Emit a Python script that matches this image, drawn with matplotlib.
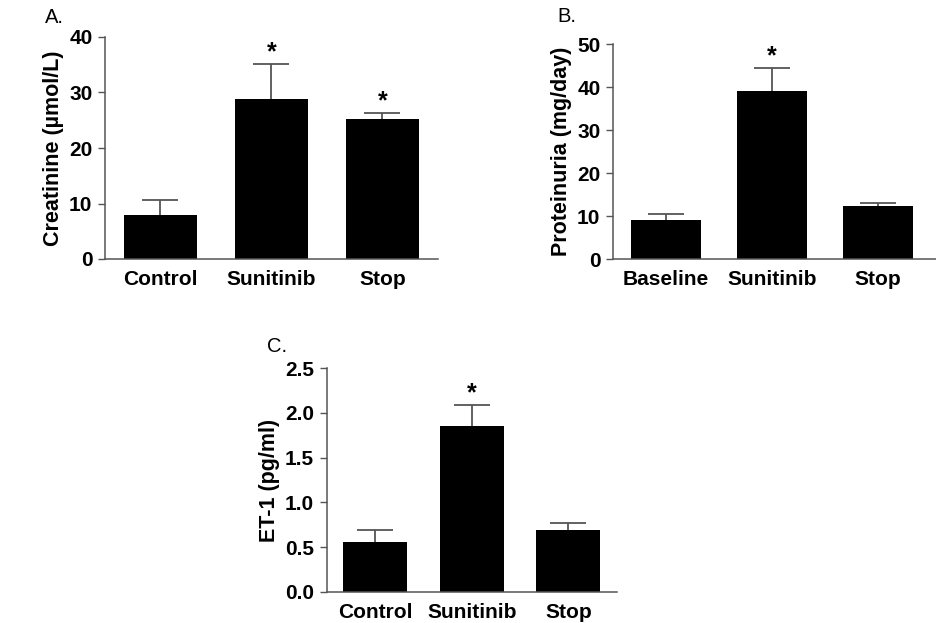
import matplotlib
matplotlib.use('Agg')
import matplotlib.pyplot as plt

plt.rcParams['font.family'] = ['Liberation Sans', 'DejaVu Sans']

# panel A: creatinine
groups_a = ['Control', 'Sunitinib', 'Stop']
creat_mean = [8.0, 28.8, 25.2]
creat_err = [2.6, 6.3, 1.1]
creat_star = [False, True, True]

# panel B: proteinuria
groups_b = ['Baseline', 'Sunitinib', 'Stop']
prot_mean = [9.1, 39.2, 12.4]
prot_err = [1.5, 5.2, 0.8]
prot_star = [False, True, False]

# panel C: ET-1
groups_c = ['Control', 'Sunitinib', 'Stop']
et1_mean = [0.56, 1.85, 0.69]
et1_err = [0.13, 0.24, 0.08]
et1_star = [False, True, False]

W, H = 937, 623
fig = plt.figure(figsize=(W / 100, H / 100), dpi=100)
fig.patch.set_facecolor('white')

GRAY = '#555555'


def bar_panel(rect, labels, means, errs, stars, ymax, step, ylabel, fmt, xr):
    ax = fig.add_axes(rect)
    x = list(range(len(labels)))
    ax.bar(x, means, width=0.66, color='black', zorder=2)
    _, caps, _ = ax.errorbar(x, means, yerr=[[0] * len(errs), errs], fmt='none',
                             ecolor=GRAY, elinewidth=1.3, capsize=13,
                             capthick=1.3, zorder=1)
    caps[0].remove()  # only the upper cap is drawn
    for xi, m, e, s in zip(x, means, errs, stars):
        if s:
            ax.annotate('*', (xi, m + e), textcoords='offset points',
                        xytext=(0, 0), ha='center', va='bottom',
                        fontsize=18, fontweight='bold')
    ax.set_xlim(-0.5, xr)
    ax.set_ylim(0, ymax)
    ticks = [i * step for i in range(int(round(ymax / step)) + 1)]
    ax.set_yticks(ticks)
    ax.set_yticklabels([fmt.format(t) for t in ticks], fontsize=15,
                       fontweight='bold')
    ax.set_xticks(x)
    ax.set_xticklabels(labels, fontsize=15, fontweight='bold')
    ax.tick_params(axis='x', length=0, pad=8)
    ax.tick_params(axis='y', length=5, width=1, color=GRAY, pad=4)
    ax.set_ylabel(ylabel, fontsize=15.5, fontweight='bold', labelpad=4)
    for sp in ['top', 'right']:
        ax.spines[sp].set_visible(False)
    for sp in ['left', 'bottom']:
        ax.spines[sp].set_color(GRAY)
        ax.spines[sp].set_linewidth(1.1)
    ax.set_facecolor('none')
    return ax


def rect(l, t, r, b):
    return [l / W, 1 - b / H, (r - l) / W, (b - t) / H]


bar_panel(rect(105, 37, 438, 259), groups_a, creat_mean, creat_err, creat_star,
          40, 10, 'Creatinine (\u00b5mol/L)', '{:.0f}', 2.5)
bar_panel(rect(613, 44.3, 936, 259.3), groups_b, prot_mean, prot_err, prot_star,
          50, 10, 'Proteinuria (mg/day)', '{:.0f}', 2.55)
bar_panel(rect(326.7, 368.3, 616.7, 591.7), groups_c, et1_mean, et1_err, et1_star,
          2.5, 0.5, 'ET-1 (pg/ml)', '{:.1f}', 2.5)

fig.text(45 / W, 1 - 23 / H, 'A.', fontsize=14.5, va='baseline')
fig.text(557 / W, 1 - 22 / H, 'B.', fontsize=14.5, va='baseline')
fig.text(267 / W, 1 - 352 / H, 'C.', fontsize=14.5, va='baseline')

fig.savefig('out.png', dpi=100)
